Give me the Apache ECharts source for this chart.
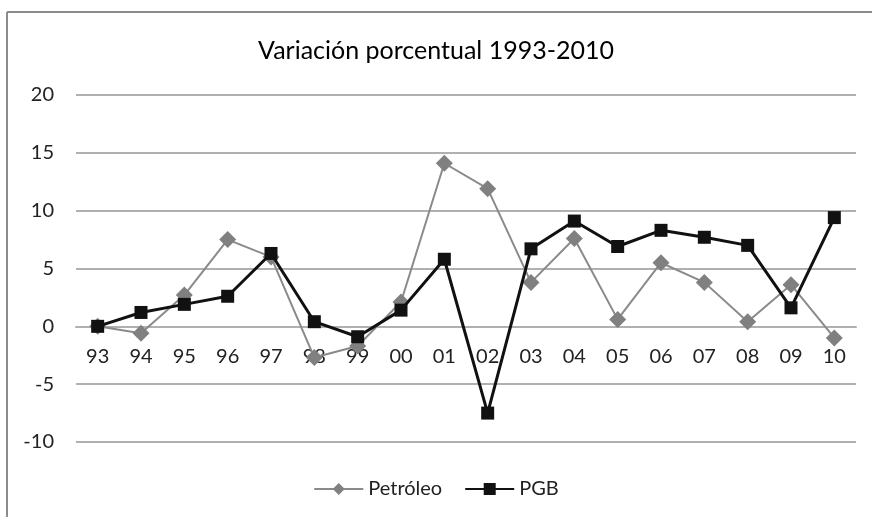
<!DOCTYPE html>
<html>
<head>
<meta charset="utf-8">
<script src="https://cdn.jsdelivr.net/npm/echarts@6/dist/echarts.min.js"></script>
<style>
  html, body { margin: 0; padding: 0; background: #fff; }
  #chart { width: 872px; height: 517px; }
</style>
</head>
<body>
<div id="chart"></div>
<script>
// años (93 .. 10)
var years = ['93', '94', '95', '96', '97', '98', '99', '00', '01', '02', '03', '04', '05', '06', '07', '08', '09', '10'];
var petroleo = [0, -0.6, 2.7, 7.5, 6.0, -2.7, -1.7, 2.1, 14.1, 11.9, 3.8, 7.6, 0.6, 5.5, 3.8, 0.4, 3.6, -1.0];
var pgb = [0, 1.2, 1.9, 2.6, 6.3, 0.4, -0.9, 1.4, 5.8, -7.5, 6.7, 9.1, 6.9, 8.3, 7.7, 7.0, 1.6, 9.4];
var yTicks = { min: -10, max: 20, step: 5 };

var myChart = echarts.init(document.getElementById('chart'));

var fontFam = 'Lato, "Open Sans", sans-serif';
var gridTop = 95, gridBottom = 75;
// el eje x cruza en 0: desplazarlo hacia arriba desde el borde inferior
var plotH = 517 - gridTop - gridBottom;
var zeroOffset = -plotH * (0 - yTicks.min) / (yTicks.max - yTicks.min);

myChart.setOption({
    backgroundColor: '#fff',
    animation: false,
    title: {
        text: 'Variación porcentual 1993-2010',
        left: 'center',
        top: 33,
        textStyle: {
            fontFamily: fontFam,
            fontWeight: 'normal',
            fontSize: 25,
            color: '#000'
        }
    },
    legend: {
        bottom: 13,
        left: 'center',
        itemWidth: 49,
        itemHeight: 15,
        itemGap: 22,
        textStyle: {
            fontFamily: fontFam,
            fontSize: 20,
            color: '#222'
        },
        data: ['Petróleo', 'PGB']
    },
    grid: {
        left: 76,
        right: 16,
        top: gridTop,
        bottom: gridBottom,
        containLabel: false
    },
    xAxis: {
        type: 'category',
        data: years,
        boundaryGap: true,
        offset: zeroOffset,
        axisLine: {
            onZero: false,
            lineStyle: { color: '#b0b0b0', width: 2 }
        },
        axisTick: { show: false },
        axisLabel: {
            margin: 20,
            fontFamily: fontFam,
            fontSize: 20,
            color: '#222',
            interval: 0
        }
    },
    yAxis: {
        type: 'value',
        min: yTicks.min,
        max: yTicks.max,
        interval: yTicks.step,
        axisLine: { show: false },
        axisTick: { show: false },
        splitLine: {
            lineStyle: { color: '#b0b0b0', width: 2 }
        },
        axisLabel: {
            margin: 22,
            fontFamily: fontFam,
            fontSize: 20,
            color: '#222'
        }
    },
    series: [
        {
            name: 'Petróleo',
            type: 'line',
            data: petroleo,
            symbol: 'diamond',
            symbolSize: 17,
            lineStyle: { color: '#8a8a8a', width: 2 },
            itemStyle: { color: '#808080' },
            z: 2
        },
        {
            name: 'PGB',
            type: 'line',
            data: pgb,
            symbol: 'rect',
            symbolSize: 13,
            lineStyle: { color: '#111', width: 3 },
            itemStyle: { color: '#111' },
            z: 3
        }
    ],
    graphic: [
        { // marco del gráfico
            type: 'line',
            shape: { x1: 7, y1: 12, x2: 872, y2: 12 },
            style: { stroke: '#8c8c8c', lineWidth: 2 }
        },
        {
            type: 'line',
            shape: { x1: 7, y1: 12, x2: 7, y2: 517 },
            style: { stroke: '#8c8c8c', lineWidth: 2 }
        }
    ]
});
</script>
</body>
</html>
